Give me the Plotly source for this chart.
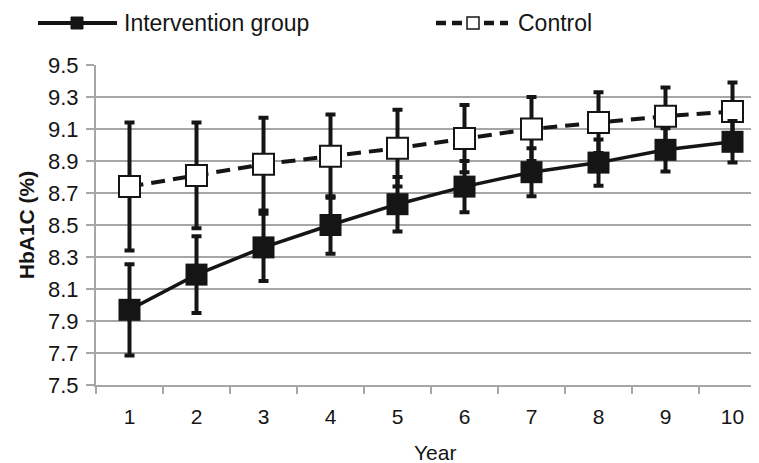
import plotly.graph_objects as go

years = [1, 2, 3, 4, 5, 6, 7, 8, 9, 10]
intervention_mean = [7.97, 8.19, 8.36, 8.50, 8.63, 8.74, 8.83, 8.89, 8.97, 9.02]
intervention_sd = [0.285, 0.24, 0.21, 0.18, 0.17, 0.16, 0.15, 0.145, 0.135, 0.13]
control_mean = [8.74, 8.81, 8.88, 8.93, 8.98, 9.04, 9.10, 9.14, 9.18, 9.21]
control_sd = [0.40, 0.33, 0.29, 0.26, 0.24, 0.21, 0.20, 0.19, 0.18, 0.18]
y_ticks = [7.5, 7.7, 7.9, 8.1, 8.3, 8.5, 8.7, 8.9, 9.1, 9.3, 9.5]

# page body has an 8px margin; the figure is sized so it ends at the window edge
OFF = 8
W, H = 759 - OFF, 463 - OFF
ML, MR, MT, MB = 96 - OFF, 0, 65 - OFF, 78
PW, PH = W - ML - MR, H - MT - MB
BLACK = "#151515"
GRID = "#a6a6a6"
FONT = "Liberation Sans, Arial, sans-serif"


def px_x(p):  # window pixel -> paper
    return (p - OFF - ML) / PW


def px_y(p):
    return (H - MB - (p - OFF)) / PH


fig = go.Figure()
fig.add_trace(go.Scatter(
    x=years, y=control_mean, name="Control", mode="lines+markers",
    line=dict(color=BLACK, width=4, dash="14px,8px"),
    marker=dict(symbol="square", size=21, color="white", line=dict(color=BLACK, width=2)),
    error_y=dict(type="data", array=control_sd, visible=True, color=BLACK, thickness=4, width=5),
    showlegend=False,
))
fig.add_trace(go.Scatter(
    x=years, y=intervention_mean, name="Intervention group", mode="lines+markers",
    line=dict(color=BLACK, width=3.5),
    marker=dict(symbol="square", size=22, color=BLACK, line=dict(color=BLACK, width=0)),
    error_y=dict(type="data", array=intervention_sd, visible=True, color=BLACK, thickness=4, width=5),
    showlegend=False,
))

# hand-drawn legend (long sample lines as in the original)
ly = px_y(23)
shapes = [
    dict(type="line", xref="paper", yref="paper", x0=px_x(38), x1=px_x(117), y0=ly, y1=ly,
         line=dict(color=BLACK, width=4)),
    dict(type="rect", xref="paper", yref="paper", x0=px_x(71), x1=px_x(83),
         y0=px_y(29), y1=px_y(17), fillcolor=BLACK, line=dict(color=BLACK, width=1)),
    dict(type="line", xref="paper", yref="paper", x0=px_x(436), x1=px_x(508), y0=ly, y1=ly,
         line=dict(color=BLACK, width=4.5, dash="10px,6px")),
    dict(type="rect", xref="paper", yref="paper", x0=px_x(467), x1=px_x(479),
         y0=px_y(29), y1=px_y(17), fillcolor="white", line=dict(color=BLACK, width=1.5)),
]
annotations = [
    dict(text="Intervention group", xref="paper", yref="paper", x=px_x(122), y=ly,
         xanchor="left", yanchor="middle", showarrow=False,
         font=dict(family=FONT, size=23, color=BLACK)),
    dict(text="Control", xref="paper", yref="paper", x=px_x(516), y=ly,
         xanchor="left", yanchor="middle", showarrow=False,
         font=dict(family=FONT, size=23, color=BLACK)),
    dict(text="Year", xref="paper", yref="paper", x=px_x(435), y=px_y(452),
         xanchor="center", yanchor="middle", showarrow=False,
         font=dict(family=FONT, size=21, color=BLACK)),
]

fig.update_layout(
    width=W, height=H,
    margin=dict(l=ML, r=MR, t=MT, b=MB, autoexpand=False),
    paper_bgcolor="white", plot_bgcolor="white",
    font=dict(family=FONT, size=21, color=BLACK),
    shapes=shapes, annotations=annotations,
    showlegend=False,
)
fig.update_xaxes(
    range=[0.5, 0.5 + PW / 67.0], automargin=False,
    tickmode="array", tickvals=years, ticktext=[str(y) for y in years],
    ticks="", showgrid=False, zeroline=False,
    showline=True, linecolor=GRID, linewidth=2,
    minor=dict(tick0=0.5, dtick=1, ticks="outside", ticklen=7, tickcolor=GRID, tickwidth=2, showgrid=False),
    ticklabelstandoff=12, tickfont=dict(size=21),
)
fig.update_yaxes(
    range=[7.5, 9.5], automargin=False, tickmode="array", tickvals=y_ticks,
    ticktext=[f"{v:.1f}" for v in y_ticks],
    ticks="outside", ticklen=8, tickcolor=GRID, tickwidth=2,
    showgrid=True, gridcolor=GRID, gridwidth=2, zeroline=False,
    showline=True, linecolor=GRID, linewidth=2,
    ticklabelstandoff=3, tickfont=dict(size=22),
    title=dict(text="<b>HbA1C (%)</b>", font=dict(family=FONT, size=21, color=BLACK), standoff=8),
)

fig.write_html("out.html")
